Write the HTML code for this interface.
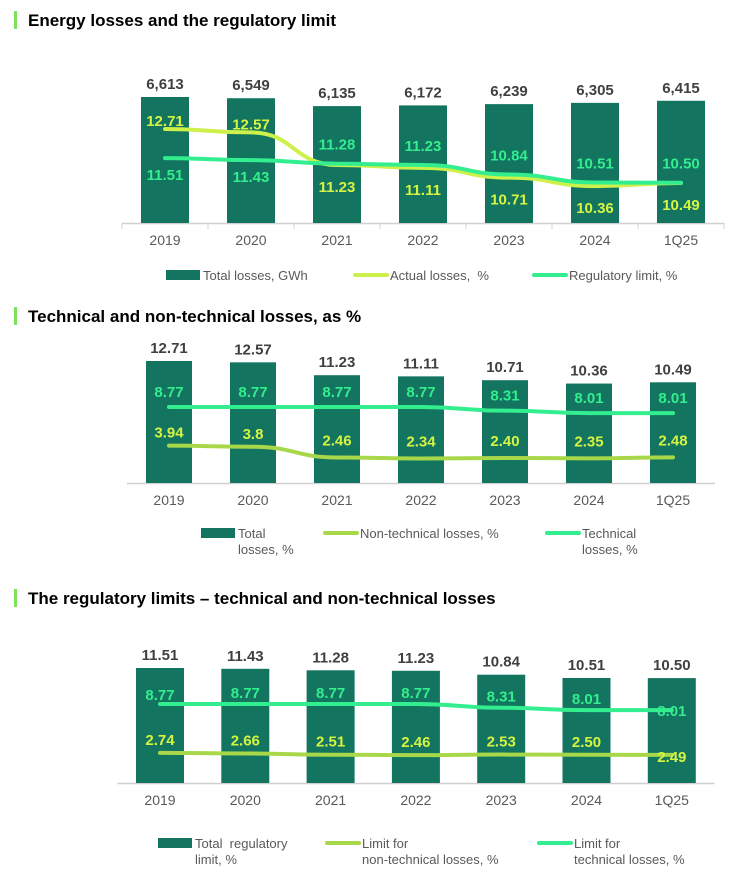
<!DOCTYPE html>
<html><head><meta charset="utf-8"><style>
html,body{margin:0;padding:0;background:#fff;width:731px;height:885px;overflow:hidden}
svg{display:block;font-family:"Liberation Sans",Arial,sans-serif}
text{white-space:pre}
</style></head><body>
<svg id="s" width="731" height="885" viewBox="0 0 731 885"></svg>
<script>
const categories=["2019","2020","2021","2022","2023","2024","1Q25"];
// chart 1
const c1Bars=[6613,6549,6135,6172,6239,6305,6415];
const c1BarLabels=["6,613","6,549","6,135","6,172","6,239","6,305","6,415"];
const c1Actual=[12.71,12.57,11.23,11.11,10.71,10.36,10.49];
const c1Limit=[11.51,11.43,11.28,11.23,10.84,10.51,10.50];
// chart 2
const c2Bars=[12.71,12.57,11.23,11.11,10.71,10.36,10.49];
const c2Tech=[8.77,8.77,8.77,8.77,8.31,8.01,8.01];
const c2NonTech=[3.94,3.8,2.46,2.34,2.40,2.35,2.48];
const c2NonTechLabels=["3.94","3.8","2.46","2.34","2.40","2.35","2.48"];
// chart 3
const c3Bars=[11.51,11.43,11.28,11.23,10.84,10.51,10.50];
const c3Tech=[8.77,8.77,8.77,8.77,8.31,8.01,8.01];
const c3NonTech=[2.74,2.66,2.51,2.46,2.53,2.50,2.49];

const NS="http://www.w3.org/2000/svg";
const svg=document.getElementById('s');
function mk(tag,attrs,parent,text){const e=document.createElementNS(NS,tag);for(const k in attrs)e.setAttribute(k,attrs[k]);if(text!==undefined)e.textContent=text;(parent||svg).appendChild(e);return e;}
const BAR="#13745f",LIME="#cdf04a",MINT="#33ee8f",OLIVE="#a8d84a",DARK="#404040",GRAY="#595959";

function title(y,txt,name){
  const g=mk('g',{});
  const r=mk('rect',{x:14,y:y-13,width:3,height:18,fill:"#7be35a"},g);
  
  mk('text',{x:28,y:y+2,'font-size':17,'font-weight':'bold',fill:'#000'},g,txt);
}
function fmt(v){return v.toFixed(2);}
function chart(o){
  const g=mk('g',{});
  const xc=i=>o.x0+i*o.step;
  const yb=v=>o.axisY-v*o.barScale;
  const yl=(v,ref,refY)=>refY+(ref-v)*o.lineScale;
  const ax=mk('line',{x1:o.x0-o.step/2,x2:o.x0+6.5*o.step,y1:o.axisY+0.5,y2:o.axisY+0.5,stroke:'#d0d0d0','stroke-width':1.5},g);
  
  if(o.ticks){for(let i=0;i<=7;i++){const t=mk('line',{x1:o.x0+(i-0.5)*o.step,x2:o.x0+(i-0.5)*o.step,y1:o.axisY,y2:o.axisY+6,stroke:'#d0d0d0'},g);}}
  o.bars.forEach((v,i)=>{
    const r=mk('rect',{x:xc(i)-o.bw/2,y:yb(v),width:o.bw,height:o.axisY-yb(v),fill:BAR},g);
    
    const t=mk('text',{x:xc(i),y:yb(v)-8,'text-anchor':'middle','font-size':15,'font-weight':'bold',fill:DARK},g,o.barLabels?o.barLabels[i]:fmt(v));
    
    const c=mk('text',{x:xc(i),y:o.axisY+22,'text-anchor':'middle','font-size':14,fill:GRAY},g,categories[i]);
    
  });
  o.lines.forEach(L=>{
    const pts=L.data.map((v,i)=>[xc(i),yl(v,L.ref,L.refY)]);
    let d='M'+pts[0][0]+','+pts[0][1];
    for(let i=1;i<pts.length;i++){const p=pts[i-1],q=pts[i],mx=(p[0]+q[0])/2;d+=' C'+mx+','+p[1]+' '+mx+','+q[1]+' '+q[0]+','+q[1];}
    const p=mk('path',{d:d,fill:'none',stroke:L.color,'stroke-width':4,'stroke-linecap':'round'},g);
    
    L.data.forEach((v,i)=>{
      const off=L.off(i);
      const t=mk('text',{x:xc(i),y:pts[i][1]+off+6,'text-anchor':'middle','font-size':15,'font-weight':'bold',fill:L.labelColor},g,L.labels?L.labels[i]:fmt(v));
      
    });
  });
  o.legend.forEach(Le=>{
    const lg=mk('g',{},g);
    if(Le.type==='rect')mk('rect',{x:Le.x,y:Le.y-5,width:34,height:10,fill:BAR},lg);
    else mk('line',{x1:Le.x+2,x2:Le.x+34,y1:Le.y,y2:Le.y,stroke:Le.color,'stroke-width':4,'stroke-linecap':'round'},lg);
    Le.text.forEach((tx,k)=>mk('text',{x:Le.x+37,y:Le.y+5+k*16,'font-size':13,fill:GRAY},lg,tx));
  });
}

title(24,"Energy losses and the regulatory limit","chart1-title");
chart({name:'chart-energy-losses',x0:165,step:86,bw:48,axisY:223,barScale:126/6613,ticks:true,bars:c1Bars,barLabels:c1BarLabels,lineScale:24.3,
  lines:[
   {name:'actual-losses-line',data:c1Actual,ref:12.71,refY:129,color:LIME,labelColor:'#d6f542',off:i=>i<2?-9:21},
   {name:'regulatory-limit-line',data:c1Limit,ref:12.71,refY:129,color:MINT,labelColor:MINT,off:i=>i<2?16:-20}],
  legend:[{type:'rect',x:166,y:275,text:['Total losses, GWh']},{type:'line',x:353,y:275,color:LIME,text:['Actual losses,  %']},{type:'line',x:532,y:275,color:MINT,text:['Regulatory limit, %']}]});

title(320,"Technical and non-technical losses, as %","chart2-title");
chart({name:'chart-technical-nontechnical',x0:169,step:84,bw:46,axisY:483,barScale:122/12.71,ticks:false,bars:c2Bars,lineScale:8,
  lines:[
   {name:'technical-losses-line',data:c2Tech,ref:8.77,refY:407,color:MINT,labelColor:MINT,off:i=>-16},
   {name:'non-technical-losses-line',data:c2NonTech,labels:c2NonTechLabels,ref:8.77,refY:407,color:OLIVE,labelColor:'#d6f542',off:i=>i<2?-14:-18}],
  legend:[{type:'rect',x:201,y:533,text:['Total','losses, %']},{type:'line',x:323,y:533,color:OLIVE,text:['Non-technical losses, %']},{type:'line',x:545,y:533,color:MINT,text:['Technical','losses, %']}]});

title(602,"The regulatory limits – technical and non-technical losses","chart3-title");
chart({name:'chart-regulatory-limits',x0:160,step:85.3,bw:48,axisY:783,barScale:115/11.51,ticks:false,bars:c3Bars,lineScale:8.1,
  lines:[
   {name:'technical-limit-line',data:c3Tech,ref:8.77,refY:704,color:MINT,labelColor:MINT,off:i=>i<6?-12+(i===0?2:0):0},
   {name:'non-technical-limit-line',data:c3NonTech,ref:8.77,refY:704,color:OLIVE,labelColor:'#d6f542',off:i=>i<6?-14:1}],
  legend:[{type:'rect',x:158,y:843,text:['Total  regulatory','limit, %']},{type:'line',x:325,y:843,color:OLIVE,text:['Limit for','non-technical losses, %']},{type:'line',x:537,y:843,color:MINT,text:['Limit for','technical losses, %']}]});
</script>
</body></html>
